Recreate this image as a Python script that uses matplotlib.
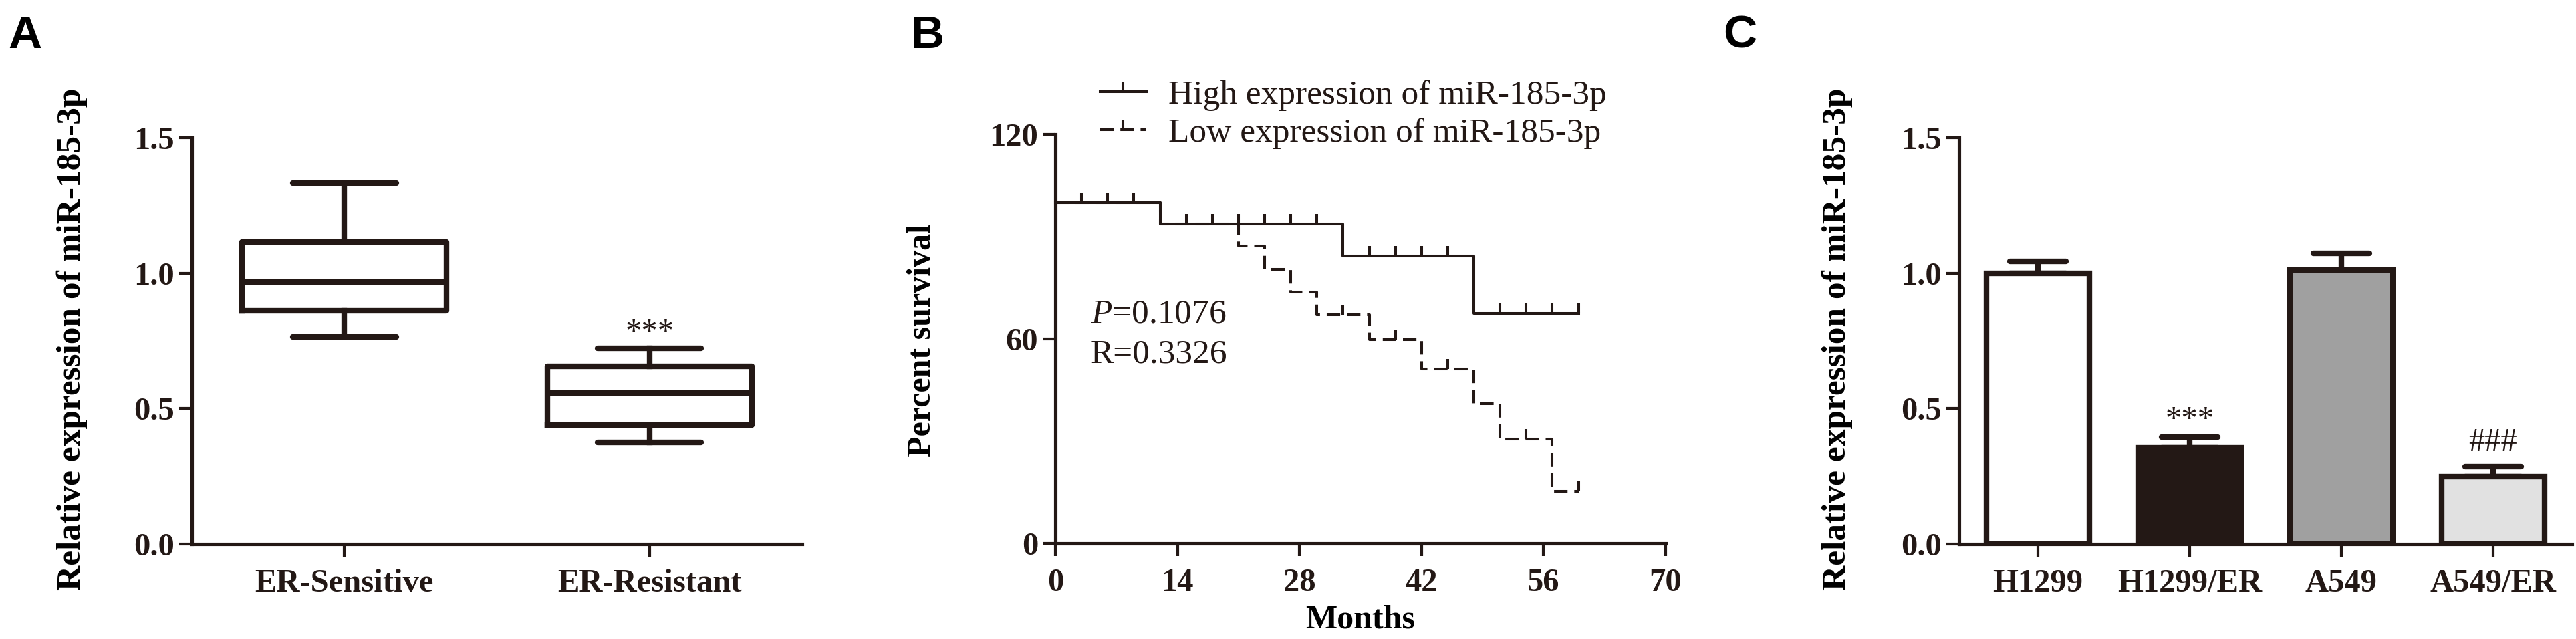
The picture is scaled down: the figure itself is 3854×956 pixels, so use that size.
import matplotlib
matplotlib.use("Agg")
import matplotlib.pyplot as plt
from matplotlib.lines import Line2D
from matplotlib.markers import MarkerStyle
import numpy as np

# panel A: box plot summary (relative expression)
box_groups = ["ER-Sensitive", "ER-Resistant"]
box_whislo = [0.766, 0.376]
box_q1 = [0.862, 0.439]
box_med = [0.966, 0.557]
box_q3 = [1.115, 0.657]
box_whishi = [1.333, 0.722]

# panel B: Kaplan-Meier curves
high_times = [0, 12, 33, 48, 60]
high_surv = [100, 93.8, 84.4, 67.5, 67.5]
high_censor = [3, 6, 9, 15, 18, 21, 24, 27, 30, 36, 39, 42, 45, 51, 54, 57, 60]
low_times = [0, 12, 21, 24, 27, 30, 36, 42, 48, 51, 57, 60]
low_surv = [100, 93.8, 87.3, 80.4, 73.7, 67.0, 59.8, 51.1, 40.9, 30.6, 15.3, 15.3]
low_censor = [33, 39, 45, 54, 60]

# panel C: bar chart
cell_lines = ["H1299", "H1299/ER", "A549", "A549/ER"]
bar_means = [1.0, 0.355, 1.012, 0.25]
bar_err = [0.043, 0.041, 0.062, 0.037]
bar_colors = ["#ffffff", "#231815", "#a0a0a0", "#e1e1e1"]

INK = "#231815"

plt.rcParams["font.family"] = ["Liberation Serif", "DejaVu Serif"]
plt.rcParams["font.weight"] = "bold"
plt.rcParams["axes.labelweight"] = "bold"
plt.rcParams["text.color"] = INK
plt.rcParams["mathtext.fontset"] = "custom"
plt.rcParams["mathtext.rm"] = "Liberation Serif:style=normal:weight=normal"
plt.rcParams["mathtext.it"] = "Liberation Serif:style=italic:weight=normal"
plt.rcParams["mathtext.bf"] = "Liberation Serif:weight=bold"

fig = plt.figure(figsize=(38.54, 9.56), dpi=100)

ax_a = fig.add_axes([0.07447, 0.1485, 0.2369, 0.636])
ax_b = fig.add_axes([0.4097, 0.1496, 0.2369, 0.6402])
ax_c = fig.add_axes([0.7605, 0.1485, 0.2379, 0.636])


def _style_axis(ax):
    for side in ("top", "right"):
        ax.spines[side].set_visible(False)
    for side in ("left", "bottom"):
        ax.spines[side].set_linewidth(3.7)
        ax.spines[side].set_color(INK)
        ax.spines[side].set_capstyle("projecting")
    ax.tick_params(axis="both", length=13.7, width=3.0, color=INK, labelcolor=INK, labelsize=35)
    ax.tick_params(axis="x", pad=13)
    ax.tick_params(axis="y", pad=5)
    ax.set_facecolor("none")


# ---- A ----
stats = [
    {"med": m, "q1": q1, "q3": q3, "whislo": lo, "whishi": hi, "fliers": []}
    for m, q1, q3, lo, hi in zip(box_med, box_q1, box_q3, box_whislo, box_whishi)
]
line_kw = dict(color=INK, linewidth=6, solid_capstyle="round")
ax_a.bxp(
    stats,
    positions=[1, 2],
    widths=0.67,
    capwidths=0.34,
    showfliers=False,
    boxprops=dict(color=INK, linewidth=6),
    medianprops=dict(color=INK, linewidth=6),
    whiskerprops=dict(color=INK, linewidth=6),
    capprops=line_kw,
)
ax_a.set_xlim(0.5, 2.5)
ax_a.set_ylim(0, 1.5)
ax_a.set_yticks([0, 0.5, 1.0, 1.5])
ax_a.set_yticklabels(["0.0", "0.5", "1.0", "1.5"])
ax_a.set_xticks([1, 2])
ax_a.set_xticklabels(box_groups, fontsize=36)
ax_a.set_ylabel("Relative expression of miR-185-3p", fontsize=37, fontweight="bold")
ax_a.yaxis.set_label_coords(-0.171, 0.505)
ax_a.text(2, 0.75, "***", ha="center", va="baseline", fontsize=35, fontweight="normal")
_style_axis(ax_a)

# ---- B ----
ax_b.step(high_times, high_surv, where="post", color=INK, linewidth=2.9, clip_on=False)
ax_b.step(low_times, low_surv, where="post", color=INK, linewidth=2.9,
          linestyle=(0, (5, 2.5)), clip_on=False)
high_idx = np.searchsorted(high_times, high_censor, side="right") - 1
low_idx = np.searchsorted(low_times, low_censor, side="right") - 1
ax_b.plot(high_censor, np.array(high_surv)[high_idx], linestyle="none", marker=2,
          markersize=10.5, markeredgewidth=2.9, color=INK, clip_on=False)
ax_b.plot(low_censor, np.array(low_surv)[low_idx], linestyle="none", marker=2,
          markersize=10.5, markeredgewidth=2.9, color=INK, clip_on=False)
ax_b.set_xlim(0, 70)
ax_b.set_ylim(0, 120)
ax_b.set_xticks([0, 14, 28, 42, 56, 70])
ax_b.set_yticks([0, 60, 120])
ax_b.set_xlabel("Months", fontsize=36, fontweight="bold")
ax_b.xaxis.set_label_coords(0.5, -0.15)
ax_b.set_ylabel("Percent survival", fontsize=36, fontweight="bold")
ax_b.yaxis.set_label_coords(-0.193, 0.497)
ax_b.text(4.06, 64.7, "$P$=0.1076", fontsize=37, fontweight="normal", va="baseline", ha="left")
ax_b.text(4.06, 53.1, "R=0.3326", fontsize=37, fontweight="normal", va="baseline", ha="left")
handles = [
    Line2D([], [], color=INK, linewidth=2.9, marker=2, markersize=10.5, markeredgewidth=2.9),
    Line2D([], [], color=INK, linewidth=2.9, linestyle=(0, (5, 2.5)), marker=2,
           markersize=10.5, markeredgewidth=2.9),
]
ax_b.legend(handles, ["High expression of miR-185-3p", "Low expression of miR-185-3p"],
            loc="upper left", bbox_to_anchor=(0.073, 1.134), frameon=False, numpoints=1,
            prop={"family": "Liberation Serif", "weight": "normal", "size": 37},
            handlelength=1.35, handletextpad=0.65, labelspacing=0.2, borderpad=0, borderaxespad=0)
_style_axis(ax_b)

# ---- C ----
pos = np.arange(len(cell_lines))
ax_c.bar(pos, bar_means, width=0.68, color=bar_colors, edgecolor=INK, linewidth=6, zorder=2)
err = ax_c.errorbar(pos, bar_means, yerr=[np.zeros(len(bar_err)), bar_err], fmt="none",
                    ecolor=INK, elinewidth=6, capsize=30, capthick=6, zorder=1)
for cap in err[1]:
    cap.set_marker(MarkerStyle("_", capstyle="round"))
ax_c.set_xlim(-0.52, 3.52)
ax_c.set_ylim(0, 1.5)
ax_c.set_yticks([0, 0.5, 1.0, 1.5])
ax_c.set_yticklabels(["0.0", "0.5", "1.0", "1.5"])
ax_c.set_xticks(pos)
ax_c.set_xticklabels(cell_lines, fontsize=36)
ax_c.set_ylabel("Relative expression of miR-185-3p", fontsize=37, fontweight="bold")
ax_c.yaxis.set_label_coords(-0.173, 0.505)
ax_c.text(1, 0.427, "***", ha="center", va="baseline", fontsize=35, fontweight="normal")
ax_c.text(3, 0.345, "###", ha="center", va="baseline", fontsize=35, fontweight="normal")
_style_axis(ax_c)

for x, letter in [(0.0031, "A"), (0.3534, "B"), (0.6689, "C")]:
    fig.text(x, 0.9247, letter, fontsize=50, fontweight="bold", family="Liberation Sans",
             color="black", va="baseline", ha="left")

fig.savefig("out.png", dpi=100)
